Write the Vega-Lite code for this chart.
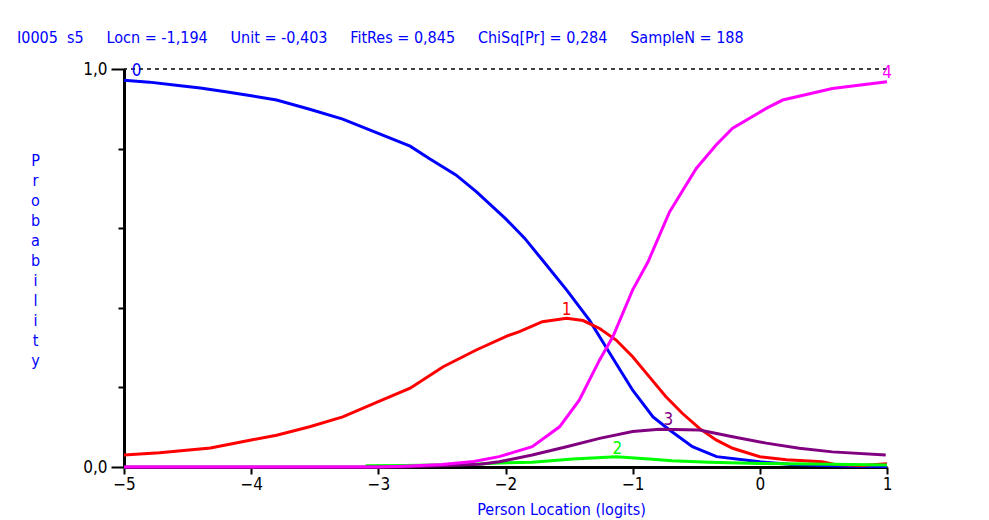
{
  "$schema": "https://vega.github.io/schema/vega-lite/v6.json",
  "autosize": "none",
  "width": 763,
  "height": 398,
  "padding": {"left": 124, "top": 69, "right": 102, "bottom": 53},
  "background": "white",
  "config": {"view": {"stroke": null}, "font": "'DejaVu Sans Condensed', 'Liberation Sans', sans-serif"},
  "title": {
    "text": "I0005\u00a0\u00a0s5\u00a0\u00a0\u00a0\u00a0\u00a0Locn = -1,194\u00a0\u00a0\u00a0\u00a0\u00a0Unit = -0,403\u00a0\u00a0\u00a0\u00a0\u00a0FitRes = 0,845\u00a0\u00a0\u00a0\u00a0\u00a0ChiSq[Pr] = 0,284\u00a0\u00a0\u00a0\u00a0\u00a0SampleN = 188",
    "anchor": "start",
    "frame": "group",
    "dx": -107,
    "offset": 6,
    "baseline": "middle",
    "font": "'DejaVu Sans Condensed', 'Liberation Sans', sans-serif",
    "fontSize": 16,
    "fontWeight": "normal",
    "color": "#0000ff"
  },
  "datasets": {
    "curves": [
      {"cat": "0", "x": -5.0, "p": 0.972}, {"cat": "0", "x": -4.8, "p": 0.967}, {"cat": "0", "x": -4.59, "p": 0.959}, {"cat": "0", "x": -4.4, "p": 0.952}, {"cat": "0", "x": -4.2, "p": 0.943}, {"cat": "0", "x": -4.0, "p": 0.933}, {"cat": "0", "x": -3.8, "p": 0.922}, {"cat": "0", "x": -3.54, "p": 0.899}, {"cat": "0", "x": -3.28, "p": 0.874}, {"cat": "0", "x": -3.0, "p": 0.838}, {"cat": "0", "x": -2.75, "p": 0.806}, {"cat": "0", "x": -2.6, "p": 0.775}, {"cat": "0", "x": -2.39, "p": 0.734}, {"cat": "0", "x": -2.23, "p": 0.692}, {"cat": "0", "x": -2.0, "p": 0.624}, {"cat": "0", "x": -1.85, "p": 0.575}, {"cat": "0", "x": -1.71, "p": 0.52}, {"cat": "0", "x": -1.52, "p": 0.445}, {"cat": "0", "x": -1.34, "p": 0.369}, {"cat": "0", "x": -1.18, "p": 0.286}, {"cat": "0", "x": -1.0, "p": 0.193}, {"cat": "0", "x": -0.84, "p": 0.126}, {"cat": "0", "x": -0.71, "p": 0.093}, {"cat": "0", "x": -0.53, "p": 0.051}, {"cat": "0", "x": -0.34, "p": 0.026}, {"cat": "0", "x": 0.0, "p": 0.013}, {"cat": "0", "x": 0.25, "p": 0.006}, {"cat": "0", "x": 0.5, "p": 0.004}, {"cat": "0", "x": 0.75, "p": 0.002}, {"cat": "0", "x": 1.0, "p": 0.001},
      {"cat": "1", "x": -5.0, "p": 0.03}, {"cat": "1", "x": -4.72, "p": 0.036}, {"cat": "1", "x": -4.32, "p": 0.048}, {"cat": "1", "x": -4.0, "p": 0.068}, {"cat": "1", "x": -3.8, "p": 0.08}, {"cat": "1", "x": -3.54, "p": 0.101}, {"cat": "1", "x": -3.28, "p": 0.126}, {"cat": "1", "x": -3.0, "p": 0.164}, {"cat": "1", "x": -2.75, "p": 0.198}, {"cat": "1", "x": -2.49, "p": 0.252}, {"cat": "1", "x": -2.23, "p": 0.294}, {"cat": "1", "x": -1.99, "p": 0.329}, {"cat": "1", "x": -1.89, "p": 0.34}, {"cat": "1", "x": -1.71, "p": 0.365}, {"cat": "1", "x": -1.52, "p": 0.374}, {"cat": "1", "x": -1.39, "p": 0.368}, {"cat": "1", "x": -1.26, "p": 0.348}, {"cat": "1", "x": -1.13, "p": 0.319}, {"cat": "1", "x": -1.0, "p": 0.277}, {"cat": "1", "x": -0.87, "p": 0.227}, {"cat": "1", "x": -0.74, "p": 0.177}, {"cat": "1", "x": -0.61, "p": 0.135}, {"cat": "1", "x": -0.475, "p": 0.097}, {"cat": "1", "x": -0.344, "p": 0.068}, {"cat": "1", "x": -0.214, "p": 0.047}, {"cat": "1", "x": 0.0, "p": 0.026}, {"cat": "1", "x": 0.21, "p": 0.018}, {"cat": "1", "x": 0.49, "p": 0.013}, {"cat": "1", "x": 0.6, "p": 0.006}, {"cat": "1", "x": 0.8, "p": 0.004}, {"cat": "1", "x": 1.0, "p": 0.008},
      {"cat": "2", "x": -3.1, "p": 0.003}, {"cat": "2", "x": -2.8, "p": 0.004}, {"cat": "2", "x": -2.3, "p": 0.006}, {"cat": "2", "x": -2.05, "p": 0.01}, {"cat": "2", "x": -1.79, "p": 0.012}, {"cat": "2", "x": -1.47, "p": 0.02}, {"cat": "2", "x": -1.13, "p": 0.026}, {"cat": "2", "x": -0.87, "p": 0.02}, {"cat": "2", "x": -0.69, "p": 0.016}, {"cat": "2", "x": -0.4, "p": 0.012}, {"cat": "2", "x": 0.0, "p": 0.009}, {"cat": "2", "x": 0.57, "p": 0.007}, {"cat": "2", "x": 1.0, "p": 0.005},
      {"cat": "3", "x": -5.0, "p": 0.0}, {"cat": "3", "x": -2.8, "p": 0.0}, {"cat": "3", "x": -2.5, "p": 0.003}, {"cat": "3", "x": -2.2, "p": 0.007}, {"cat": "3", "x": -2.05, "p": 0.013}, {"cat": "3", "x": -1.79, "p": 0.03}, {"cat": "3", "x": -1.52, "p": 0.051}, {"cat": "3", "x": -1.26, "p": 0.072}, {"cat": "3", "x": -1.0, "p": 0.089}, {"cat": "3", "x": -0.79, "p": 0.095}, {"cat": "3", "x": -0.475, "p": 0.093}, {"cat": "3", "x": -0.214, "p": 0.076}, {"cat": "3", "x": 0.05, "p": 0.06}, {"cat": "3", "x": 0.31, "p": 0.047}, {"cat": "3", "x": 0.57, "p": 0.038}, {"cat": "3", "x": 0.99, "p": 0.03},
      {"cat": "4", "x": -5.0, "p": 0.0}, {"cat": "4", "x": -3.0, "p": 0.0}, {"cat": "4", "x": -2.8, "p": 0.002}, {"cat": "4", "x": -2.5, "p": 0.006}, {"cat": "4", "x": -2.25, "p": 0.014}, {"cat": "4", "x": -2.05, "p": 0.026}, {"cat": "4", "x": -1.79, "p": 0.051}, {"cat": "4", "x": -1.575, "p": 0.101}, {"cat": "4", "x": -1.42, "p": 0.168}, {"cat": "4", "x": -1.26, "p": 0.269}, {"cat": "4", "x": -1.156, "p": 0.327}, {"cat": "4", "x": -1.0, "p": 0.445}, {"cat": "4", "x": -0.88, "p": 0.515}, {"cat": "4", "x": -0.71, "p": 0.641}, {"cat": "4", "x": -0.5, "p": 0.75}, {"cat": "4", "x": -0.344, "p": 0.809}, {"cat": "4", "x": -0.214, "p": 0.851}, {"cat": "4", "x": 0.05, "p": 0.901}, {"cat": "4", "x": 0.18, "p": 0.922}, {"cat": "4", "x": 0.57, "p": 0.951}, {"cat": "4", "x": 1.0, "p": 0.968}
    ],
    "labels": [
      {"cat": "0", "x": -4.9, "p": 0.995, "label": "0"},
      {"cat": "1", "x": -1.52, "p": 0.394, "label": "1"},
      {"cat": "2", "x": -1.12, "p": 0.045, "label": "2"},
      {"cat": "3", "x": -0.72, "p": 0.118, "label": "3"},
      {"cat": "4", "x": 1.0, "p": 0.99, "label": "4"}
    ],
    "ref": [{"p": 1}]
  },
  "layer": [
    {
      "data": {"name": "curves"},
      "mark": {"type": "line", "strokeWidth": 3, "interpolate": "linear"},
      "encoding": {
        "x": {
          "field": "x", "type": "quantitative",
          "scale": {"domain": [-5, 1], "nice": false, "zero": false},
          "axis": {
            "values": [-5, -4, -3, -2, -1, 0, 1],
            "labelExpr": "format(datum.value, 'd')",
            "grid": false,
            "domainColor": "black", "domainWidth": 3,
            "tickColor": "black", "tickWidth": 2, "tickSize": 7,
            "labelFontSize": 17, "labelColor": "black",
            "labelPadding": 2, "labelFlush": false, "labelOverlap": false,
            "title": "Person Location (logits)",
            "titleFontSize": 16, "titleFontWeight": "normal",
            "titleColor": "#0000ff", "titleX": 437, "titleY": 47, "titleBaseline": "alphabetic", "titleAlign": "center"
          }
        },
        "y": {
          "field": "p", "type": "quantitative",
          "scale": {"domain": [0, 1], "nice": false},
          "axis": {
            "values": [0, 0.1, 0.2, 0.3, 0.4, 0.5, 0.6, 0.7, 0.8, 0.9, 1],
            "labelExpr": "abs(datum.value*2 - round(datum.value*2)) < 0.001 ? replace(format(datum.value, '.1f'), '.', ',') : ''",
            "grid": false,
            "domainColor": "black", "domainWidth": 3,
            "tickColor": "black", "tickWidth": 2,
            "tickSize": {"condition": {"test": "abs(datum.value*2 - round(datum.value*2)) < 0.001", "value": 13}, "value": 6},
            "labelFontSize": 17, "labelColor": "black",
            "labelPadding": 4, "labelOverlap": false, "labelFlush": false,
            "title": ["P", "r", "o", "b", "a", "b", "i", "l", "i", "t", "y"],
            "titleFontSize": 16, "titleFontWeight": "normal",
            "titleColor": "#0000ff", "titleAngle": 0, "titleLineHeight": 20,
            "titleX": -89, "titleY": 83, "titleAlign": "center", "titleBaseline": "top"
          }
        },
        "color": {
          "field": "cat", "type": "nominal",
          "scale": {"domain": ["0", "1", "2", "3", "4"], "range": ["#0000ff", "#ff0000", "#00ff00", "#800080", "#ff00ff"]},
          "legend": null
        }
      }
    },
    {
      "data": {"name": "ref"},
      "mark": {"type": "rule", "strokeDash": [4, 4], "color": "black", "strokeWidth": 1.5},
      "encoding": {"y": {"field": "p", "type": "quantitative"}}
    },
    {
      "data": {"name": "labels"},
      "mark": {"type": "text", "fontSize": 17, "baseline": "middle", "align": "center"},
      "encoding": {
        "x": {"field": "x", "type": "quantitative"},
        "y": {"field": "p", "type": "quantitative"},
        "text": {"field": "label"},
        "color": {"field": "cat", "type": "nominal", "legend": null}
      }
    }
  ]
}
